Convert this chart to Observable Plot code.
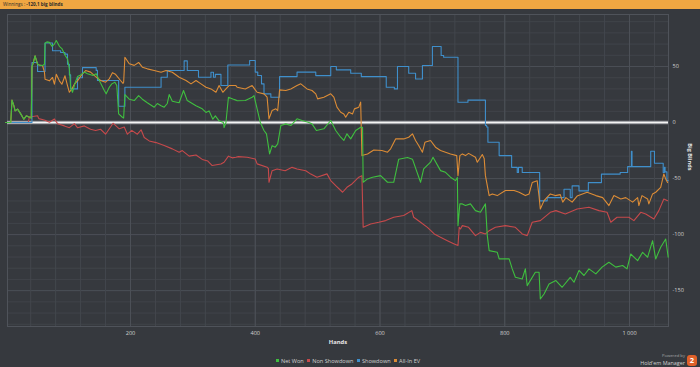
<!DOCTYPE html>
<html>
<head>
<meta charset="utf-8">
<script src="https://cdn.jsdelivr.net/npm/d3@7"></script>
<script src="https://cdn.jsdelivr.net/npm/@observablehq/plot@0.6"></script>
<style>
  html, body { margin: 0; padding: 0; background: #36393e; width: 700px; height: 367px; overflow: hidden; font-family: "Open Sans", "DejaVu Sans", sans-serif; }
  #title { height: 9px; background: #f0a742; color: #2b2b2b; font-size: 4.6px; line-height: 9px; padding-left: 3px; white-space: nowrap; }
  #chart { position: absolute; left: 0; top: 9px; }
  #legend { position: absolute; top: 357px; left: 274px; font-size: 5.6px; color: #d0d0d0; white-space: nowrap; line-height: 8px; }
  #legend span.sw { display: inline-block; width: 3px; height: 3px; margin: 0 2px 0 2px; vertical-align: 1px; }
  #powered { position: absolute; right: 15px; top: 353px; text-align: right; color: #cfcfcf; line-height: 6px; }
  #powered .p1 { font-size: 4.2px; color: #a8a8a8; }
  #powered .p2 { font-size: 5.4px; line-height: 9px; }
  #logo { position: absolute; right: 3px; top: 355px; width: 10px; height: 11px; background: #e0612a; border-radius: 3px; color: #fff; font-size: 7.5px; font-weight: bold; text-align: center; line-height: 11px; }
</style>
</head>
<body>
<div id="title">Winnings : <b>-120,1 big blinds</b></div>
<div id="chart"></div>
<div id="legend"></div>
<div id="powered"><div class="p1">Powered by</div><div class="p2">Hold'em Manager</div></div>
<div id="logo">2</div>
<script>
// ---- data: [hand, big blinds] ----
const seriesNames = ["Net Won", "Non Showdown", "Showdown", "All-In EV"];
const seriesColors = ["#3fbf3f", "#c6494b", "#3f8fcb", "#dc8c36"];
const xTicks = [200, 400, 600, 800, 1000];
const xTickLabels = ["200", "400", "600", "800", "1 000"];
const yTicks = [50, 0, -50, -100, -150];

const netWon = [[0,0],[8,0],[10,20],[13,15],[15,10.4],[19,12],[24,7.7],[29,3],[33,6],[37,5],[41,4],[42,50],[44,53],[47,59.5],[51,52],[55,51],[59,50.9],[62,52],[63,70.8],[66,72],[70,71.5],[74,68],[78,70],[81,73.2],[86,68],[90,66],[95,60],[99,56.8],[102,48],[104,31.5],[107,27],[111,35],[115,41],[120,42.5],[126,45],[131,43.5],[140,42],[145,43.5],[150,37.5],[158,28.6],[161,25.6],[166,31.5],[170,34.5],[175,36],[178,33],[181,7.7],[187,4.7],[189,4],[191,25],[198,20.8],[206,19.6],[213,24],[219,20.8],[227,17.7],[238,13.7],[243,17],[249,15],[254,13.7],[259,17],[262,25],[267,19],[278,17.7],[285,28.6],[291,19.6],[305,15],[315,12.2],[321,9],[326,10.4],[332,3],[336,6],[342,1.5],[349,0],[350,-4.5],[353,0],[357,22.6],[364,21],[369,20],[371,19.5],[384,19.6],[395,22.6],[398,24],[408,0.3],[414,-7.1],[418,-10.1],[423,-28],[427,-20.6],[432,-22],[436,-19],[441,-2.7],[449,-1.2],[457,-2.7],[467,3.3],[475,1.8],[486,0],[491,-1.2],[498,-7.1],[510,-5.6],[521,1.8],[529,-7.1],[537,-13.1],[542,-16],[547,-10.1],[553,-14.6],[561,-7.1],[569,-4.2],[572,-4.2],[573,-53.3],[580,-50.3],[588,-48.8],[601,-47.4],[612,-53.3],[622,-53.3],[630,-32.7],[644,-31.2],[652,-32.7],[665,-53.3],[670,-41.4],[681,-35.4],[685,-31],[697,-42.9],[705,-44.4],[713,-48.8],[721,-51.8],[724,-49],[725,-92],[728,-72.6],[732,-72.6],[737,-74],[745,-72.6],[753,-78.6],[761,-80.1],[769,-72.6],[772,-100.9],[775,-114.3],[788,-115.8],[791,-121.7],[807,-121.7],[812,-130.6],[817,-138.1],[828,-139.6],[833,-130.6],[836,-145.5],[849,-133.6],[855,-133.6],[857,-157.5],[863,-153],[871,-144],[882,-141],[892,-147],[905,-138.1],[911,-142.5],[919,-132],[927,-136.5],[935,-130.6],[946,-135],[956,-129],[967,-124.7],[978,-129],[989,-127.6],[996,-130.6],[1002,-117.3],[1013,-123.2],[1021,-115.8],[1029,-120.2],[1037,-105.4],[1042,-121.7],[1050,-111.3],[1058,-104],[1062,-120.1]];

const nonShowdown = [[0,0],[36,0],[38,5],[51,6],[53,3.5],[63,2],[70,0.3],[78,3.2],[83,-1],[94,-3],[102,-4.6],[110,-1],[115,-4.6],[126,-3],[136,-6],[144,-7.1],[152,-6],[160,-10.4],[168,-4],[172,-0.6],[182,-5.6],[190,-4],[195,-10.4],[202,-7],[211,-10.4],[217,-6.5],[222,-13.4],[230,-16.4],[241,-17.9],[254,-20.5],[267,-23.5],[278,-26.5],[283,-25],[294,-30],[305,-29],[315,-32.9],[324,-34.4],[331,-38.4],[345,-37],[350,-35.4],[357,-30],[363,-31.5],[369,-31],[373,-30.4],[387,-31],[400,-32.5],[403,-36.9],[419,-39.9],[421,-41],[422,-53.3],[427,-43],[435,-41.4],[448,-43],[459,-40],[467,-41.4],[481,-43],[489,-46],[499,-48.8],[515,-45.8],[521,-51.8],[529,-56.3],[540,-62.2],[547,-57.8],[555,-54.8],[566,-48.8],[571,-47.4],[573,-93.5],[585,-90.5],[598,-89],[609,-87.5],[622,-84.5],[638,-83],[651,-78.6],[654,-84.5],[665,-89],[676,-93.5],[687,-99.4],[697,-102.4],[708,-105.4],[719,-108.3],[725,-109.8],[727,-93.5],[729,-95],[732,-92],[742,-93.5],[753,-100.9],[761,-98],[769,-99.4],[775,-96.5],[785,-93.5],[801,-92],[817,-93.5],[828,-99.4],[836,-100.9],[844,-89],[857,-87.5],[873,-80.1],[882,-78.6],[897,-81.6],[916,-77.1],[935,-75.6],[951,-78.6],[964,-80.1],[970,-89],[980,-84.5],[999,-84.5],[1007,-87.5],[1018,-80.1],[1026,-81.6],[1039,-86],[1047,-78.6],[1055,-68.2],[1061,-69.7]];

const showdown = [[0,0],[42,53.6],[51,45.5],[63,71],[75,64],[88,62.5],[95,61],[99,52],[102,42.5],[104,30],[115,40],[123,49],[145,46.5],[147,37.5],[181,14.5],[191,31.5],[249,40.4],[259,46.4],[286,55],[291,46.4],[309,40.4],[329,44.9],[333,40.4],[336,43],[345,33],[356,51.4],[391,55.4],[400,45],[404,42],[410,34.5],[414,25.6],[425,22.6],[439,41],[467,45],[497,41.9],[521,50],[530,47],[553,44],[570,41],[610,31.5],[623,30],[628,50],[646,44],[657,38.9],[668,50.9],[684,67.9],[698,59.8],[702,58.3],[725,18.1],[741,20],[769,-2.7],[771,-4],[773,-17.6],[791,-29.5],[811,-40],[820,-44.6],[822,-40],[828,-44.6],[856,-69.9],[868,-67],[895,-59.5],[905,-67],[908,-56.5],[919,-61],[934,-53.6],[955,-46],[985,-44.6],[997,-39.3],[1003,-25.6],[1004,-39.3],[1034,-25.6],[1040,-36.3],[1054,-44.6],[1056,-40],[1057,-44],[1060,-51.8],[1062,-51.8]];

const allInEV = [[0,0],[8,0],[10,20],[13,15],[15,10.4],[19,12],[24,7.7],[29,3],[33,6],[37,5],[41,4],[42,50],[44,53],[47,59.5],[51,52],[55,51],[59,50.9],[62,45],[63,38.7],[70,37.2],[75,40.2],[78,34.2],[81,43],[86,37.2],[90,34.2],[95,41.7],[99,33],[102,27],[106,30],[110,34.2],[115,37.2],[123,43.5],[128,46.4],[136,45],[144,41],[152,37.5],[160,36],[166,39],[171,44.5],[176,43],[184,37.5],[188,35],[189,36],[191,58.3],[198,52.4],[206,51],[213,53.6],[219,49.4],[227,47.9],[238,46.4],[249,44.9],[257,46.4],[267,44.9],[278,40.4],[289,37.5],[297,34.5],[305,37.5],[313,34.5],[321,31.5],[329,30],[337,27],[342,33],[348,27],[353,30],[358,33],[369,33],[371,31.5],[384,30],[395,33],[403,27],[414,25.6],[419,22.6],[422,3.3],[427,10.7],[433,12.2],[436,10.7],[439,29.1],[449,28.6],[457,30],[467,33],[473,34.5],[483,30],[491,28.6],[497,25.6],[500,21.1],[510,22.6],[521,25.6],[526,22.6],[531,13.7],[537,9.2],[542,7.7],[545,4.8],[550,9.2],[556,7.7],[559,12.2],[566,13.7],[569,18.2],[571,-29.5],[580,-28],[590,-24.5],[603,-25],[612,-26.5],[617,-23.5],[625,-14.6],[638,-14.6],[646,-13.1],[652,-10.1],[657,-16],[662,-20.5],[668,-26.5],[672,-17.6],[681,-16],[689,-22],[697,-25],[713,-28],[723,-29.5],[725,-47.4],[728,-29.5],[732,-28],[737,-29.5],[742,-27.5],[753,-31],[756,-35.4],[764,-28.5],[767,-32],[769,-47.4],[775,-65.2],[780,-63.7],[788,-65.2],[801,-60.7],[815,-60.7],[823,-62.2],[833,-65.2],[839,-63.7],[844,-53.6],[852,-52],[855,-66],[857,-77.1],[863,-69.7],[873,-63.7],[881,-65.2],[889,-64.3],[893,-71],[898,-67],[908,-71],[916,-65.6],[932,-62.2],[946,-65.2],[957,-67],[967,-74.1],[975,-65.2],[986,-68.2],[994,-67],[1005,-71],[1013,-67],[1015,-74.1],[1020,-65.2],[1029,-68.2],[1031,-72.6],[1037,-63.7],[1042,-62.2],[1050,-57.8],[1055,-45.9],[1058,-50.3],[1061,-53.6]];

// ---- build ----
const toRows = (arr, name) => arr.map(([h, v]) => ({hand: h, bb: v, series: name}));
const rowsNet = toRows(netWon, "Net Won");
const rowsNon = toRows(nonShowdown, "Non Showdown");
const rowsSd = toRows(showdown, "Showdown");
const rowsEv = toRows(allInEV, "All-In EV");

const minorX = d3.range(40, 1062, 40);
const minorY = d3.range(-180, 97, 10);

const chart = Plot.plot({
  width: 700,
  height: 343,
  marginLeft: 7,
  marginRight: 32,
  marginTop: 5,
  marginBottom: 26,
  style: {background: "transparent", color: "#cfcfcf", fontFamily: "'Open Sans', 'DejaVu Sans', sans-serif", fontSize: "5.6px"},
  x: {domain: [2.8, 1062.5]},
  y: {domain: [-182, 96.4]},
  color: {domain: seriesNames, range: seriesColors},
  marks: [
    Plot.ruleY(minorY, {stroke: "#40444a", strokeWidth: 1}),
    Plot.ruleY(yTicks, {stroke: "#4a4e55", strokeWidth: 1}),
    Plot.ruleX(minorX, {stroke: "#43474d", strokeWidth: 1}),
    Plot.ruleX(xTicks, {stroke: "#4c5057", strokeWidth: 1}),
    Plot.frame({stroke: "#4f535a"}),
    Plot.axisX({ticks: xTicks, tickSize: 0, tickPadding: 5, tickFormat: d => xTickLabels[xTicks.indexOf(d)], label: null, fontSize: 5.6}),
    Plot.axisY({anchor: "right", ticks: yTicks, tickSize: 0, tickPadding: 4, tickFormat: d => String(d), label: null, textAnchor: "start", fontSize: 5.6}),
    Plot.text(["Hands"], {frameAnchor: "bottom", dy: 17, fontWeight: "bold", fontSize: 5.8, fill: "#e8e8e8"}),
    Plot.text(["Big Blinds"], {frameAnchor: "right", dx: 21, rotate: 90, fontWeight: "bold", fontSize: 5.6, fill: "#e8e8e8"}),
    Plot.ruleY([0], {stroke: "#8e9196", strokeWidth: 3.5}),
    Plot.ruleY([0], {stroke: "#f4f4f4", strokeWidth: 1.6}),
    Plot.line(rowsNon, {x: "hand", y: "bb", stroke: "series", strokeWidth: 1.1}),
    Plot.line(rowsSd, {x: "hand", y: "bb", stroke: "series", strokeWidth: 1.1, curve: "step-after"}),
    Plot.line(rowsEv, {x: "hand", y: "bb", stroke: "series", strokeWidth: 1.1}),
    Plot.line(rowsNet, {x: "hand", y: "bb", stroke: "series", strokeWidth: 1.1})
  ]
});
document.getElementById("chart").appendChild(chart);

const legend = document.getElementById("legend");
seriesNames.forEach((n, i) => {
  const sw = document.createElement("span");
  sw.className = "sw";
  sw.style.background = seriesColors[i];
  legend.appendChild(sw);
  legend.appendChild(document.createTextNode(n + " "));
});
</script>
</body>
</html>
